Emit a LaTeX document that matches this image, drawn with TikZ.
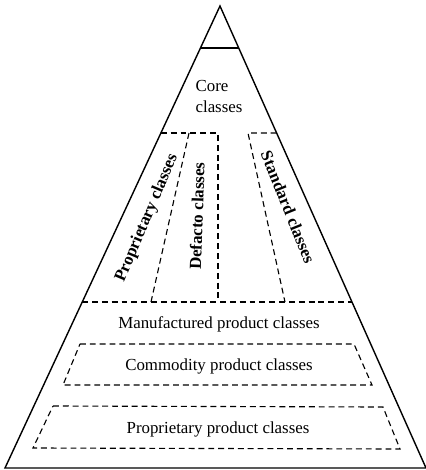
\documentclass[tikz,border=0pt]{standalone}
\usepackage{fontspec}
\setmainfont{Liberation Serif}
\tikzstyle{pyramid}=[line width=1pt, line join=miter]
\tikzstyle{dashedbox}=[line width=0.8pt, dash pattern=on 4.2pt off 2.8pt]
\tikzstyle{classtext}=[font=\fontsize{12}{15}\selectfont, inner sep=0pt]
\tikzstyle{sidetext}=[font=\fontsize{12}{15}\selectfont\bfseries, inner sep=0pt]

\begin{document}
\begin{tikzpicture}[x=0.025cm, y=-0.025cm]
	\useasboundingbox (0,0) rectangle (426,470);
	\coordinate (apex) at (220,6);
	\coordinate (bl) at (5,468);
	\coordinate (br) at (426,468);
	\draw[pyramid] (bl) -- (apex) -- (br) -- cycle;
	\draw[pyramid] (200.5,48) -- (238.7,48);
	% upper band
	\draw[dashedbox] (160.9,133) -- (218,133) -- (218,302);
	\draw[dashedbox] (189,133) -- (151,302);
	\draw[dashedbox] (276.6,133) -- (248,133) -- (285,302);
	\draw[dashedbox] (82.2,302) -- (352,302);
	% lower boxes
	\draw[dashedbox] (80,344) -- (354,344) -- (372,385) -- (63,385) -- cycle;
	\draw[dashedbox] (53,406) -- (383,407) -- (400,449) -- (33,448) -- cycle;
	\node[classtext, align=left] (core) at (219,96.5) {Core\\classes};
	\node[sidetext, rotate=67] (propcls) at (147,218) {Proprietary classes};
	\node[sidetext, rotate=88] (defacto) at (197,216) {Defacto classes};
	\node[sidetext, rotate=-68] (standard) at (288,207) {Standard classes};
	\node[classtext] (manuf) at (219,324) {Manufactured product classes};
	\node[classtext] (commodity) at (219,366) {Commodity product classes};
	\node[classtext] (propprod) at (218,429) {Proprietary product classes};
\end{tikzpicture}
\end{document}
